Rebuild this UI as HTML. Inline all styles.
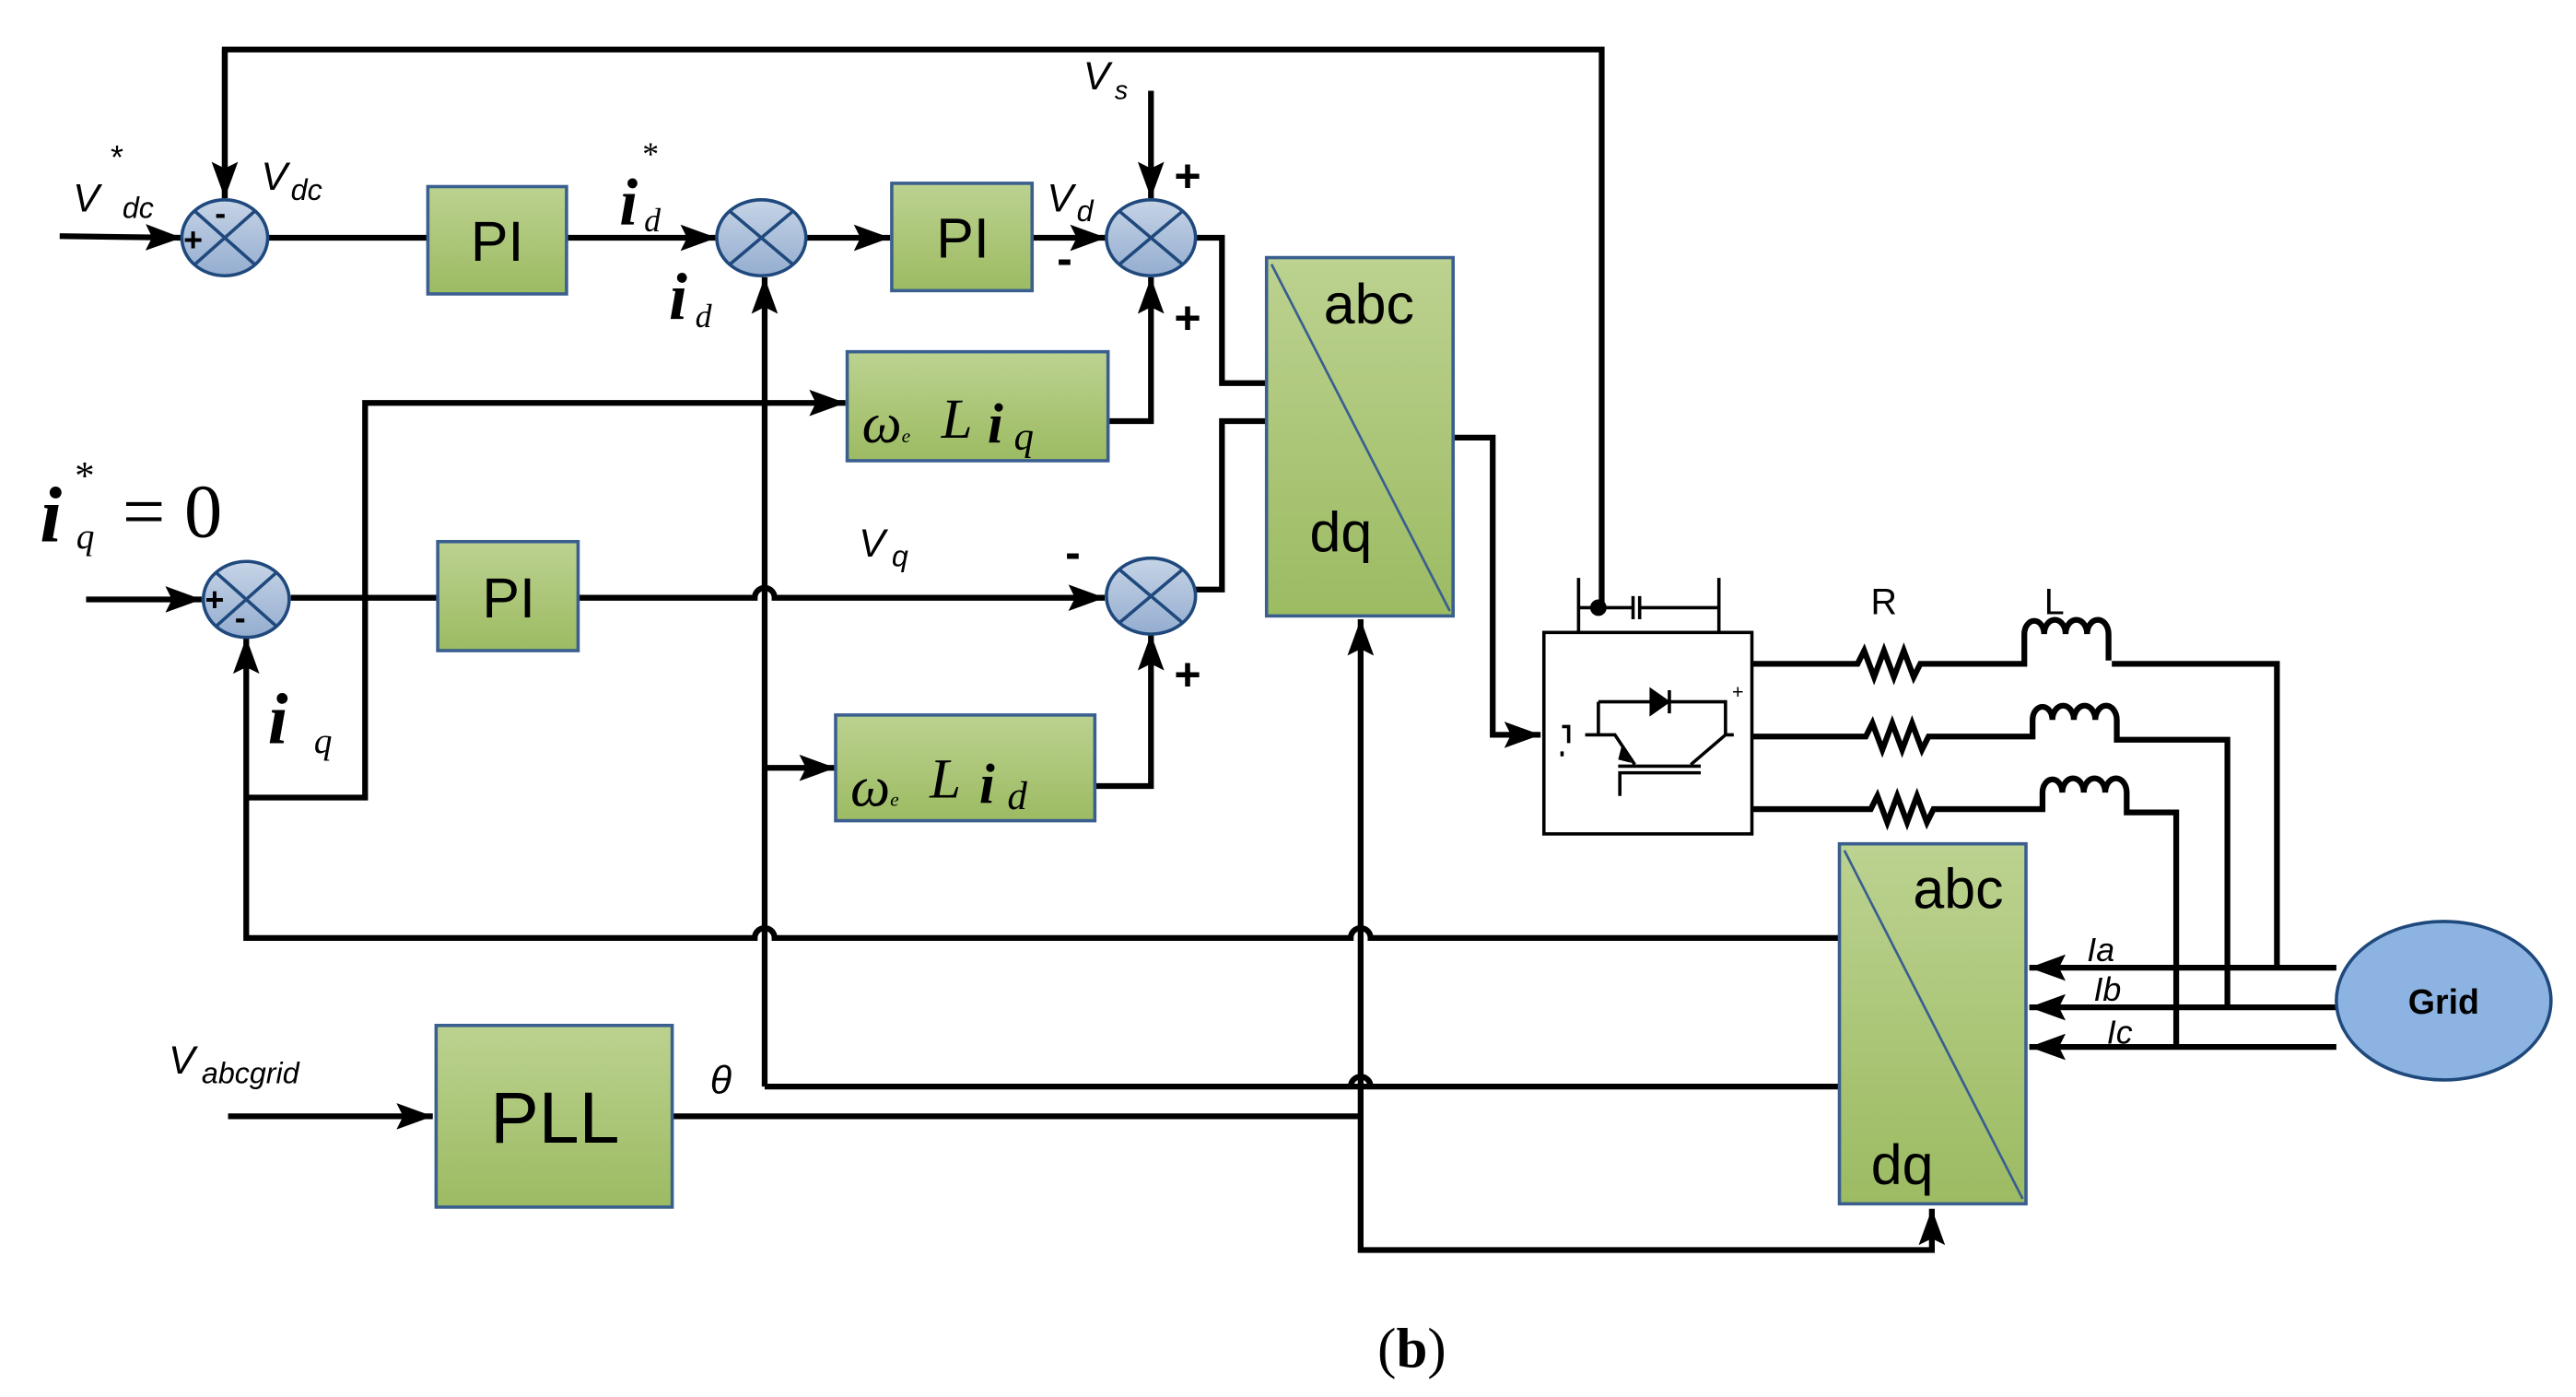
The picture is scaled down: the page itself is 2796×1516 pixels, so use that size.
<!DOCTYPE html>
<html><head><meta charset="utf-8"><style>
html,body{margin:0;padding:0;background:#fff}
svg{display:block}
text{font-family:"Liberation Sans",sans-serif}
.s text{font-family:"Liberation Serif",serif;font-style:italic}
</style></head><body>
<svg width="2796" height="1516" viewBox="0 0 1560 846" xmlns="http://www.w3.org/2000/svg">
<defs>
<linearGradient id="g" x1="0" y1="0" x2="0" y2="1"><stop offset="0" stop-color="#bcd290"/><stop offset="1" stop-color="#9cbb62"/></linearGradient>
<linearGradient id="b" x1="0" y1="0" x2="0" y2="1"><stop offset="0" stop-color="#c6d4e6"/><stop offset="1" stop-color="#94add0"/></linearGradient>
<marker id="A" markerWidth="22" markerHeight="16" refX="22" refY="8" orient="auto" markerUnits="userSpaceOnUse"><path d="M0,0 L22,8 L0,16 L4,8z" fill="#000"/></marker>
</defs>
<g stroke="#000" stroke-width="3.5" fill="none">
<path d="M136,120 V30 H970 V368"/>
<path d="M136,30 V120" marker-end="url(#A)"/>
<path d="M36,143 L110,144" marker-end="url(#A)"/>
<path d="M162,144 H259"/>
<path d="M343,144 H434" marker-end="url(#A)"/>
<path d="M488,144 H539" marker-end="url(#A)"/>
<path d="M625,144 H670" marker-end="url(#A)"/>
<path d="M697,55 V120" marker-end="url(#A)"/>
<path d="M671,255 H697 V168" marker-end="url(#A)"/>
<path d="M723,144 H740 V232 H767"/>
<path d="M723,357 H740 V255 H767"/>
<path d="M880,265 H904 V445 H933" marker-end="url(#A)"/>
<path d="M463,658 V168" marker-end="url(#A)"/>
<path d="M463,658 H1114"/>
<path d="M463,465 H506" marker-end="url(#A)"/>
<path d="M52,363 H122" marker-end="url(#A)"/>
<path d="M176,362 H265"/>
<path d="M350,362 H457 A6,6 0 0 1 469,362 H669" marker-end="url(#A)"/>
<path d="M1114,568 H830 A6,6 0 0 0 818,568 H469 A6,6 0 0 0 457,568 H149 V386" marker-end="url(#A)"/>
<path d="M149,483 H221 V244 H512" marker-end="url(#A)"/>
<path d="M663,476 H697 V384" marker-end="url(#A)"/>
<path d="M138,676 H262" marker-end="url(#A)"/>
<path d="M407,676 H824 V375" marker-end="url(#A)"/>
<path d="M824,676 V757 H1170 V732" marker-end="url(#A)"/>
<path d="M818,658 A6,6 0 0 1 830,658"/>
<path d="M1061,402 H1125 l4,-8 l6,16 l6,-16 l6,16 l6,-16 l6,16 l4,-8 H1226 V384 a6,8 0 0 1 12,0 a6,8 0 0 1 13,0 a6,8 0 0 1 13,0 a6,8 0 0 1 13,0 V400 M1279,402 H1379 V586"/>
<path d="M1061,446 H1130 l4,-8 l6,16 l6,-16 l6,16 l6,-16 l6,16 l4,-8 H1231 V436 a6,8 0 0 1 12,0 a6,8 0 0 1 13,0 a6,8 0 0 1 13,0 a6,8 0 0 1 13,0 V448 H1349 V610"/>
<path d="M1061,490 H1133 l4,-8 l6,16 l6,-16 l6,16 l6,-16 l6,16 l4,-8 H1237 V480 a6,8 0 0 1 12,0 a6,8 0 0 1 13,0 a6,8 0 0 1 13,0 a6,8 0 0 1 13,0 V492 H1318 V634"/>
<path d="M1415,586 H1229" marker-end="url(#A)"/>
<path d="M1415,610 H1229" marker-end="url(#A)"/>
<path d="M1415,634 H1229" marker-end="url(#A)"/>
</g>
<g stroke="#000" fill="none" stroke-width="2">
<rect x="935" y="383" width="126" height="122" fill="#fff"/>
<path d="M956,383 V350 M1041,383 V350 M956,368 H989 M989,361 V375 M993,361 V375 M993,368 H1041"/>
<path d="M968,425 H1045 V445 M968,425 V445 M960,445 H978 L990,463 M1045,445 H1050 M1045,445 L1024,463 M980,464 H1030 M980,468 H1030 M981,468 V482"/>
<path d="M946,440 h4 v10 M946,455 v3"/>
</g>
<path d="M1000,418 L1010,425 L1000,432z M1011,418 V432" fill="#000" stroke="#000" stroke-width="2"/>
<path d="M982,452 L988,462 L980,460z" fill="#000"/>
<text x="1049" y="423" font-size="12">+</text>
<circle cx="968" cy="368" r="5" fill="#000"/>
<g stroke="#1f497d" stroke-width="2" fill="url(#b)">
<ellipse cx="136" cy="144" rx="26" ry="23"/><ellipse cx="461" cy="144" rx="27" ry="23"/>
<ellipse cx="697" cy="144" rx="27" ry="23"/><ellipse cx="149" cy="363" rx="26" ry="23"/>
<ellipse cx="697" cy="361" rx="27" ry="23"/>
</g>
<g stroke="#1f497d" stroke-width="2">
<path d="M118,128 L154,160 M154,128 L118,160"/><path d="M442,128 L480,160 M480,128 L442,160"/>
<path d="M678,128 L716,160 M716,128 L678,160"/><path d="M131,347 L167,379 M167,347 L131,379"/>
<path d="M678,345 L716,377 M716,345 L678,377"/>
</g>
<g stroke="#3a5f8f" stroke-width="2" fill="url(#g)">
<rect x="259" y="113" width="84" height="65"/><rect x="540" y="111" width="85" height="65"/>
<rect x="513" y="213" width="158" height="66"/><rect x="265" y="328" width="85" height="66"/>
<rect x="506" y="433" width="157" height="64"/><rect x="264" y="621" width="143" height="110"/>
<rect x="767" y="156" width="113" height="217"/><rect x="1114" y="511" width="113" height="218"/>
</g>
<path d="M770,160 L878,370 M1117,515 L1225,726" stroke="#3a5f8f" stroke-width="1.5"/>
<ellipse cx="1480" cy="606" rx="65" ry="48" fill="#8db3e2" stroke="#1f497d" stroke-width="2"/>
<g font-size="34" text-anchor="middle">
<text x="301" y="158">PI</text><text x="583" y="156">PI</text><text x="308" y="374">PI</text>
<text x="336" y="692" font-size="44">PLL</text>
<text x="829" y="196">abc</text><text x="812" y="334">dq</text>
<text x="1186" y="550">abc</text><text x="1152" y="717">dq</text>
</g>
<text x="1480" y="614" font-size="21" font-weight="bold" text-anchor="middle">Grid</text>
<text x="1133" y="372" font-size="22">R</text><text x="1238" y="372" font-size="22">L</text>
<g font-style="italic" font-size="24">
<text x="44" y="128">V</text><text x="66" y="102" font-size="20">*</text><text x="74" y="132" font-size="18">dc</text>
<text x="158" y="115">V</text><text x="176" y="121" font-size="18">dc</text>
<text x="634" y="128">V</text><text x="652" y="134" font-size="18">d</text>
<text x="656" y="54">V</text><text x="675" y="60" font-size="16">s</text>
<text x="520" y="337">V</text><text x="540" y="343" font-size="18">q</text>
<text x="102" y="650">V</text><text x="122" y="656" font-size="18">abcgrid</text>
<text x="430" y="662">θ</text>
<text x="1264" y="582" font-size="20">Ia</text><text x="1268" y="606" font-size="20">Ib</text><text x="1276" y="632" font-size="20">Ic</text>
</g>
<g class="s">
<text x="375" y="136" font-size="40" font-weight="bold">i</text><text x="388" y="100" font-size="20">*</text><text x="390" y="140" font-size="20">d</text>
<text x="405" y="193" font-size="40" font-weight="bold">i</text><text x="421" y="198" font-size="20">d</text>
<text x="24" y="328" font-size="48" font-weight="bold">i</text><text x="44" y="296" font-size="24">*</text><text x="46" y="332" font-size="22">q</text>
<text x="74" y="325" font-size="46" style="font-style:normal">= 0</text>
<text x="162" y="450" font-size="44" font-weight="bold">i</text><text x="190" y="456" font-size="22">q</text>
<text x="522" y="268" font-size="34">ω</text><text x="546" y="268" font-size="12">e</text><text x="570" y="265" font-size="34">L</text><text x="598" y="268" font-size="34" font-weight="bold">i</text><text x="614" y="272" font-size="24">q</text>
<text x="515" y="488" font-size="34">ω</text><text x="539" y="488" font-size="12">e</text><text x="563" y="483" font-size="34">L</text><text x="593" y="486" font-size="34" font-weight="bold">i</text><text x="610" y="490" font-size="24">d</text>
</g>
<g font-size="28" font-weight="bold">
<text x="711" y="116">+</text><text x="711" y="202">+</text><text x="711" y="418">+</text>
<text x="640" y="166">-</text><text x="645" y="344">-</text>
</g>
<g font-size="20" font-weight="bold">
<text x="111" y="152">+</text><text x="130" y="136">-</text>
<text x="124" y="370">+</text><text x="142" y="381">-</text>
</g>
<text x="855" y="828" style="font-family:'Liberation Serif',serif" font-size="34" text-anchor="middle">(<tspan font-weight="bold">b</tspan>)</text>
</svg>
</body></html>
